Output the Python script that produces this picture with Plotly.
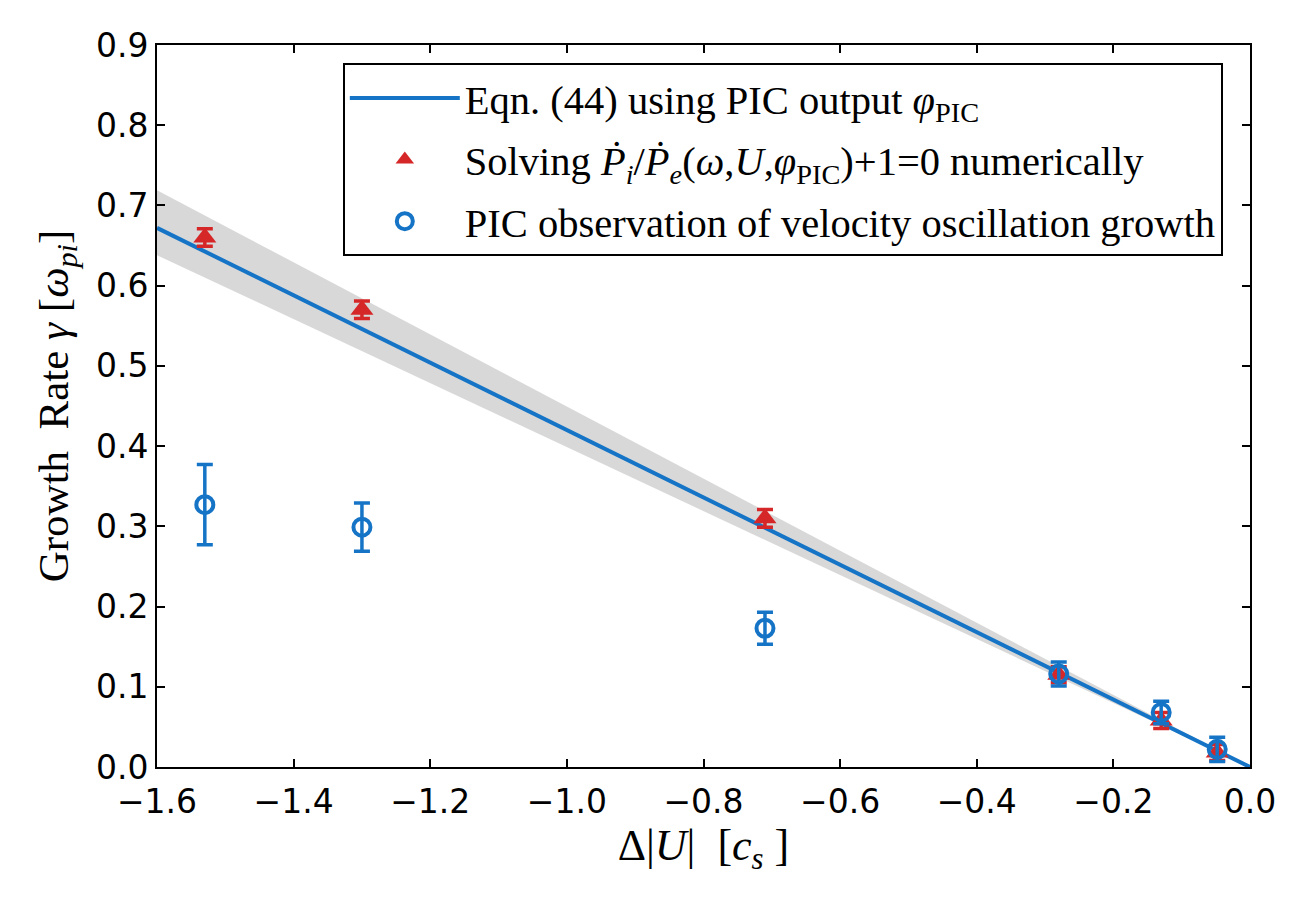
import plotly.graph_objects as go

# Data
delta_u = [-1.53, -1.30, -0.71, -0.28, -0.13, -0.048]
gamma_solve = [0.660, 0.570, 0.310, 0.115, 0.058, 0.018]
gamma_solve_err = [0.011, 0.011, 0.011, 0.010, 0.010, 0.010]
gamma_pic = [0.327, 0.299, 0.173, 0.116, 0.068, 0.022]
gamma_pic_err = [0.050, 0.030, 0.020, 0.015, 0.014, 0.015]

line_x = [-1.6, 0.0]
line_y = [0.672, 0.0]
band_upper = [0.719, 0.0]
band_lower = [0.638, 0.0]

x_ticks = [-1.6, -1.4, -1.2, -1.0, -0.8, -0.6, -0.4, -0.2, 0.0]
y_ticks = [0.0, 0.1, 0.2, 0.3, 0.4, 0.5, 0.6, 0.7, 0.8, 0.9]

BLUE = "#1574c6"
RED = "#d62728"
SERIF = "Liberation Serif, Times New Roman, serif"
SANS = "DejaVu Sans, sans-serif"

fig = go.Figure()

fig.add_trace(go.Scatter(x=line_x, y=band_lower, mode="lines",
                         line=dict(width=0, color="rgba(0,0,0,0)"),
                         showlegend=False, hoverinfo="skip"))
fig.add_trace(go.Scatter(x=line_x, y=band_upper, mode="lines",
                         line=dict(width=0, color="rgba(0,0,0,0)"),
                         fill="tonexty", fillcolor="rgba(200,200,200,0.7)",
                         showlegend=False, hoverinfo="skip"))

fig.add_trace(go.Scatter(x=line_x, y=line_y, mode="lines",
                         line=dict(color=BLUE, width=4),
                         name="Eqn. (44) using PIC output <i>φ</i><sub>PIC</sub>",
                         legendgroup="a"))

fig.add_trace(go.Scatter(x=delta_u, y=gamma_solve, mode="markers",
                         marker=dict(symbol="triangle-up", size=20, color=RED,
                                     line=dict(width=0)),
                         error_y=dict(type="data", array=gamma_solve_err,
                                      color=RED, thickness=3.5, width=8),
                         name="Solving <i>Ṗ</i><sub><i>i</i></sub>/<i>Ṗ</i><sub><i>e</i></sub>(<i>ω</i>,<i>U</i>,<i>φ</i><sub>PIC</sub>)+1=0 numerically",
                         legendgroup="b"))

fig.add_trace(go.Scatter(x=delta_u, y=gamma_pic, mode="markers",
                         marker=dict(symbol="circle-open", size=17, color=BLUE,
                                     line=dict(width=4, color=BLUE)),
                         error_y=dict(type="data", array=gamma_pic_err,
                                      color=BLUE, thickness=3.5, width=8),
                         name="PIC observation of velocity oscillation growth",
                         legendgroup="c"))

axis_common = dict(
    showline=True, linecolor="black", linewidth=2, mirror="allticks",
    ticks="inside", ticklen=8, tickwidth=1.5, tickcolor="black",
    showgrid=False, zeroline=False,
    tickfont=dict(family=SANS, size=33, color="black"),
)

fig.update_xaxes(range=[-1.6, 0.0], tickvals=x_ticks,
                 ticktext=[("−" if v < 0 else "") + f"{abs(v):.1f}" for v in x_ticks],
                 ticklabelstandoff=4,
                 title=dict(text="Δ|<i>U</i>|  [<i>c</i><sub><i>s</i></sub> ]",
                            font=dict(family=SERIF, size=44, color="black"),
                            standoff=6),
                 **axis_common)
fig.update_yaxes(range=[0.0, 0.9], tickvals=y_ticks,
                 ticktext=[f"{v:.1f}" for v in y_ticks],
                 title=dict(text="Growth  Rate <i>γ</i> [<i>ω</i><sub><i>pi</i></sub>]",
                            font=dict(family=SERIF, size=43, color="black"),
                            standoff=14),
                 **axis_common)

fig.update_layout(
    width=1305, height=900,
    margin=dict(l=157, r=55, t=45, b=133),
    plot_bgcolor="white", paper_bgcolor="white",
    legend=dict(x=0.17, y=0.975, xanchor="left", yanchor="top",
                bgcolor="white", bordercolor="black", borderwidth=2,
                font=dict(family=SERIF, size=40.5, color="black"),
                tracegroupgap=6, traceorder="grouped", itemwidth=110),
)

fig.write_html("out.html")
